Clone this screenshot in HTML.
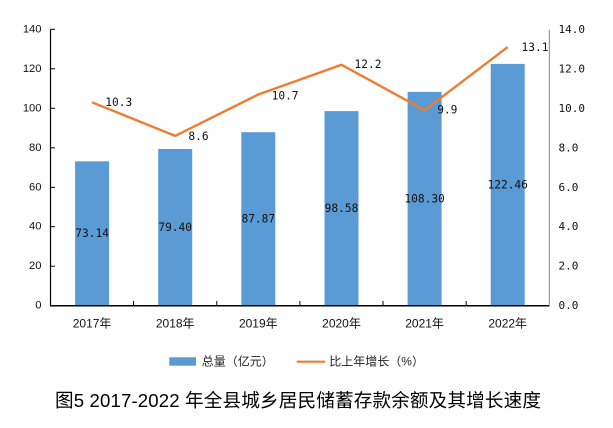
<!DOCTYPE html>
<html><head><meta charset="utf-8"><style>
html,body{margin:0;padding:0;background:#fff;}
svg{display:block;}
</style></head><body>
<svg width="613" height="428" viewBox="0 0 613 428" xmlns="http://www.w3.org/2000/svg">
<rect width="613" height="428" fill="#fff"/>
<!-- bars -->
<g fill="#5B9BD5">
<rect x="75.1" y="161.3" width="34" height="144.4"/>
<rect x="158.2" y="149.0" width="34" height="156.7"/>
<rect x="241.3" y="132.2" width="34" height="173.5"/>
<rect x="324.5" y="111.1" width="34" height="194.6"/>
<rect x="407.6" y="91.9" width="34" height="213.8"/>
<rect x="490.7" y="63.9" width="34" height="241.8"/>
</g>
<!-- axes -->
<line x1="50.5" y1="29.3" x2="50.5" y2="306" stroke="#000" stroke-width="1.2"/>
<line x1="50" y1="305.7" x2="549.5" y2="305.7" stroke="#000" stroke-width="1.5"/>
<line x1="549.3" y1="29.8" x2="549.3" y2="306" stroke="#808080" stroke-width="1"/>
<g stroke="#000" stroke-width="1">
<line x1="50.5" y1="29.3" x2="55" y2="29.3"/>
<line x1="50.5" y1="68.8" x2="55" y2="68.8"/>
<line x1="50.5" y1="108.3" x2="55" y2="108.3"/>
<line x1="50.5" y1="147.8" x2="55" y2="147.8"/>
<line x1="50.5" y1="187.3" x2="55" y2="187.3"/>
<line x1="50.5" y1="226.7" x2="55" y2="226.7"/>
<line x1="50.5" y1="266.2" x2="55" y2="266.2"/>
<line x1="133.6" y1="301" x2="133.6" y2="305.7"/>
<line x1="216.8" y1="301" x2="216.8" y2="305.7"/>
<line x1="299.9" y1="301" x2="299.9" y2="305.7"/>
<line x1="383.0" y1="301" x2="383.0" y2="305.7"/>
<line x1="466.2" y1="301" x2="466.2" y2="305.7"/>
</g>
<!-- left tick labels -->
<g font-family="Liberation Sans, sans-serif" font-size="11.2" fill="#111" text-anchor="end" dominant-baseline="central">
<text x="41.5" y="29.3">140</text>
<text x="41.5" y="68.8">120</text>
<text x="41.5" y="108.3">100</text>
<text x="41.5" y="147.8">80</text>
<text x="41.5" y="187.3">60</text>
<text x="41.5" y="226.7">40</text>
<text x="41.5" y="266.2">20</text>
<text x="41.5" y="305.7">0</text>
</g>
<!-- right tick labels -->
<g font-family="DejaVu Sans Mono, Liberation Mono, monospace" font-size="11" fill="#111" dominant-baseline="central">
<text x="558.5" y="29.3">14.0</text>
<text x="558.5" y="68.8">12.0</text>
<text x="558.5" y="108.3">10.0</text>
<text x="558.5" y="147.8">8.0</text>
<text x="558.5" y="187.3">6.0</text>
<text x="558.5" y="226.7">4.0</text>
<text x="558.5" y="266.2">2.0</text>
<text x="558.5" y="305.7">0.0</text>
</g>
<!-- x labels -->
<g font-family="Liberation Sans, 'Noto Sans CJK SC', sans-serif" font-size="12" fill="#111" text-anchor="middle" dominant-baseline="central">
<text x="92.1" y="323.3">2017年</text>
<text x="175.2" y="323.3">2018年</text>
<text x="258.3" y="323.3">2019年</text>
<text x="341.5" y="323.3">2020年</text>
<text x="424.6" y="323.3">2021年</text>
<text x="507.7" y="323.3">2022年</text>
</g>
<!-- line -->
<polyline points="92.1,102.3 175.2,135.9 258.3,94.5 341.5,64.8 424.6,110.2 507.7,47.1" fill="none" stroke="#ED7D31" stroke-width="2.4" stroke-linejoin="round"/>
<!-- bar labels -->
<g font-family="DejaVu Sans Mono, Liberation Mono, monospace" font-size="11.2" fill="#111" text-anchor="middle" dominant-baseline="central">
<text x="92.1" y="233.5">73.14</text>
<text x="175.2" y="227.4">79.40</text>
<text x="258.3" y="219.0">87.87</text>
<text x="341.5" y="208.6">98.58</text>
<text x="424.6" y="199.0">108.30</text>
<text x="507.7" y="185.0">122.46</text>
</g>
<!-- line labels -->
<g font-family="DejaVu Sans Mono, Liberation Mono, monospace" font-size="11.2" fill="#111" dominant-baseline="central">
<text x="105.3" y="102.4">10.3</text>
<text x="188.4" y="136.6">8.6</text>
<text x="271.6" y="95.8">10.7</text>
<text x="354.5" y="64.5">12.2</text>
<text x="437.2" y="110.2">9.9</text>
<text x="521.5" y="47.6">13.1</text>
</g>
<!-- legend -->
<rect x="169.3" y="357.3" width="26.7" height="8.4" fill="#5B9BD5"/>
<line x1="296.7" y1="361.7" x2="325" y2="361.7" stroke="#ED7D31" stroke-width="2.2"/>
<g font-family="Liberation Sans, 'Noto Sans CJK SC', sans-serif" font-size="12" fill="#222" dominant-baseline="central">
<text x="201.7" y="361.7">总量（亿元）</text>
<text x="329.3" y="361.7">比上年增长（%）</text>
</g>
<!-- title -->
<text x="55" y="400.5" textLength="486" lengthAdjust="spacing" font-family="Liberation Sans, 'Noto Sans CJK SC', sans-serif" font-size="18.6" font-weight="normal" fill="#000" dominant-baseline="central">图5 2017-2022 年全县城乡居民储蓄存款余额及其增长速度</text>
</svg>
</body></html>
